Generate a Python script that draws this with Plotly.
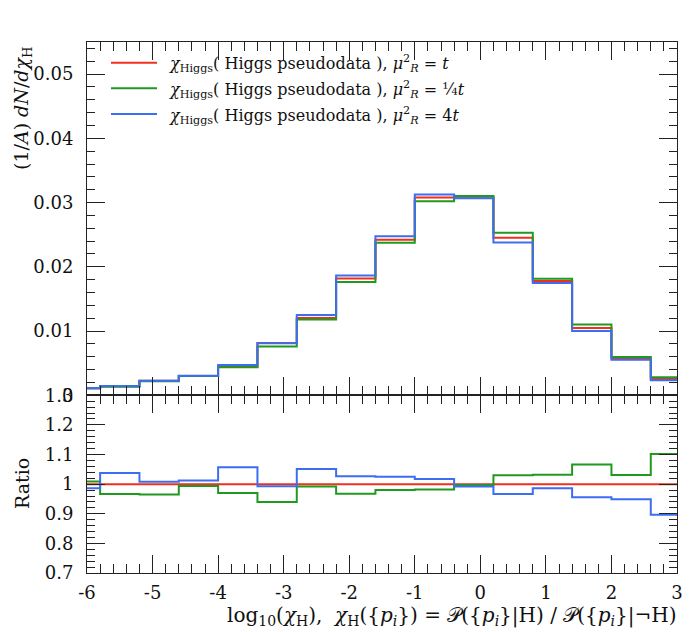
import plotly.graph_objects as go

# ---------------- data ----------------
bin_edges = [-6.4, -5.8, -5.2, -4.6, -4.0, -3.4, -2.8, -2.2, -1.6, -1.0,
             -0.4, 0.2, 0.8, 1.4, 2.0, 2.6, 3.2]

red_vals = [0.00110, 0.00140, 0.00225, 0.00301, 0.00450, 0.00815, 0.01205, 0.01820,
            0.02420, 0.03079, 0.03089, 0.02451, 0.01778, 0.01047, 0.00575, 0.00253]
green_vals = [0.00111, 0.00135, 0.00217, 0.00299, 0.00435, 0.00760, 0.01180, 0.01762,
              0.02373, 0.03022, 0.03104, 0.02529, 0.01813, 0.01104, 0.00596, 0.00280]
blue_vals = [0.00109, 0.00145, 0.00227, 0.00305, 0.00471, 0.00809, 0.01249, 0.01866,
             0.02477, 0.03126, 0.03068, 0.02380, 0.01747, 0.01000, 0.00554, 0.00233]

red_ratio = [1.0] * 16
green_ratio = [1.009, 0.967, 0.965, 0.994, 0.970, 0.940, 0.992, 0.968,
               0.980, 0.982, 0.997, 1.030, 1.032, 1.066, 1.031, 1.102]
blue_ratio = [0.986, 1.038, 1.008, 1.012, 1.057, 0.993, 1.051, 1.027,
              1.025, 1.017, 0.992, 0.967, 0.986, 0.956, 0.949, 0.897]

labels = [
    "<i>χ</i><sub>Higgs</sub>( Higgs pseudodata ), <i>μ</i><sup>2</sup><sub><i>R</i></sub> = <i>t</i>",
    "<i>χ</i><sub>Higgs</sub>( Higgs pseudodata ), <i>μ</i><sup>2</sup><sub><i>R</i></sub> = ¼<i>t</i>",
    "<i>χ</i><sub>Higgs</sub>( Higgs pseudodata ), <i>μ</i><sup>2</sup><sub><i>R</i></sub> = 4<i>t</i>",
]
colors = ["#f0301c", "#1f9a1f", "#3d6ef2"]

top_ticks = [0, 0.01, 0.02, 0.03, 0.04, 0.05]
top_ticktext = ["0", "0.01", "0.02", "0.03", "0.04", "0.05"]
ratio_ticks = [0.7, 0.8, 0.9, 1.0, 1.1, 1.2, 1.3]
ratio_ticktext = ["0.7", "0.8", "0.9", "1", "1.1", "1.2", "1.3"]
x_ticks = [-6, -5, -4, -3, -2, -1, 0, 1, 2, 3]

FONT = "DejaVu Serif"

# ---------------- figure ----------------
W, H = 700, 632
ML, MR, MT, MB = 87, 23, 42, 59
PW, PH = W - ML - MR, H - MT - MB
split = (573 - 395.3) / PH

fig = go.Figure()

def step(vals):
    return list(vals) + [vals[-1]]

for vals, c, lab in zip([red_vals, green_vals, blue_vals], colors, labels):
    fig.add_trace(go.Scatter(x=bin_edges, y=step(vals), mode="lines",
                             line=dict(color=c, width=2, shape="hv"),
                             name=lab, xaxis="x", yaxis="y", showlegend=False,
                             hoverinfo="skip"))

for vals, c, lab in zip([red_ratio, green_ratio, blue_ratio], colors, labels):
    fig.add_trace(go.Scatter(x=bin_edges, y=step(vals), mode="lines",
                             line=dict(color=c, width=2, shape="hv"),
                             name=lab, xaxis="x2", yaxis="y2", showlegend=False,
                             hoverinfo="skip"))

axis_common = dict(showgrid=False, zeroline=False, showline=True, linecolor="#222",
                   linewidth=1, ticks="inside", mirror="ticks", tickcolor="#222",
                   tickwidth=1, tickfont=dict(family=FONT, size=18, color="#111"))

fig.update_layout(
    width=W, height=H,
    margin=dict(l=ML, r=MR, t=MT, b=MB),
    paper_bgcolor="white", plot_bgcolor="white",
    font=dict(family=FONT, size=18, color="#111"),
    xaxis=dict(domain=[0, 1], anchor="y", range=[-6, 3], tickvals=x_ticks,
               showticklabels=False, ticklen=18,
               minor=dict(dtick=0.2, tick0=0, ticklen=9, ticks="inside", tickcolor="#222"),
               **axis_common),
    yaxis=dict(domain=[split, 1], anchor="x", range=[0, 0.055], tickvals=top_ticks,
               ticktext=top_ticktext, ticklen=18, ticklabelstandoff=9,
               minor=dict(dtick=0.002, tick0=0, ticklen=8, ticks="inside", tickcolor="#222"),
               **axis_common),
    xaxis2=dict(domain=[0, 1], anchor="y2", range=[-6, 3], tickvals=x_ticks,
                ticktext=[str(v) for v in x_ticks], ticklen=18, matches="x",
                ticklabelstandoff=3,
                minor=dict(dtick=0.2, tick0=0, ticklen=9, ticks="inside", tickcolor="#222"),
                **axis_common),
    yaxis2=dict(domain=[0, split], anchor="x2", range=[0.7, 1.3], tickvals=ratio_ticks,
                ticktext=ratio_ticktext, ticklen=18, ticklabelstandoff=9,
                minor=dict(dtick=0.02, tick0=0, ticklen=8, ticks="inside", tickcolor="#222"),
                **axis_common),
)

def px_x(p):
    return (p - ML) / PW

def px_y(p):
    return (H - MB - p) / PH

# manual legend
legend_rows = [62.7, 88.3, 114.0]
for lab, c, yy in zip(labels, colors, legend_rows):
    fig.add_shape(type="line", xref="paper", yref="paper",
                  x0=px_x(111), x1=px_x(157), y0=px_y(yy), y1=px_y(yy),
                  line=dict(color=c, width=2))
    fig.add_annotation(xref="paper", yref="paper", x=px_x(167), y=px_y(yy + 1),
                       xanchor="left", yanchor="middle", text=lab, showarrow=False,
                       font=dict(family=FONT, size=16, color="#111"))

# axis titles
fig.add_annotation(xref="paper", yref="paper", x=px_x(22), y=px_y(44),
                   xanchor="center", yanchor="top", textangle=-90,
                   text="(1/<i>A</i>) <i>dN</i>/<i>dχ</i><sub>H</sub>", showarrow=False,
                   font=dict(family=FONT, size=19, color="#111"))
fig.add_annotation(xref="paper", yref="paper", x=px_x(22), y=px_y(484),
                   xanchor="center", yanchor="middle", textangle=-90,
                   text="Ratio", showarrow=False,
                   font=dict(family=FONT, size=19, color="#111"))
fig.add_annotation(xref="paper", yref="paper", x=px_x(679), y=px_y(616),
                   xanchor="right", yanchor="middle",
                   text="log<sub>10</sub>(<i>χ</i><sub>H</sub>),  <i>χ</i><sub>H</sub>({<i>p</i><sub><i>i</i></sub>}) = 𝒫({<i>p</i><sub><i>i</i></sub>}|H) / 𝒫({<i>p</i><sub><i>i</i></sub>}|¬H)",
                   showarrow=False, font=dict(family=FONT, size=20, color="#111"))

fig.write_html("out.html")
